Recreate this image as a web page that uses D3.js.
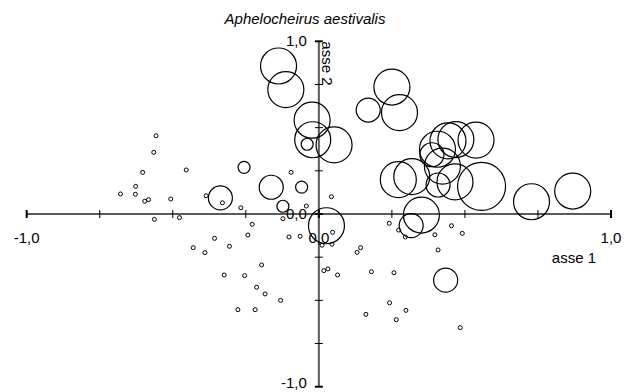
<!DOCTYPE html>
<html>
<head>
<meta charset="utf-8">
<script src="https://cdn.jsdelivr.net/npm/d3@7"></script>
<style>
  html, body { margin: 0; padding: 0; background: #fff; }
  svg { display: block; }
  text { font-family: "Liberation Sans", Arial, sans-serif; fill: #000; }
</style>
</head>
<body>
<svg id="chart" width="634" height="392"></svg>
<script>
// Sample scores on the first two ordination axes and abundance class (0 = absent)
const axis1 = [
  -0.557, -0.565, -0.603, -0.454, -0.627, -0.679, -0.628, -0.583, -0.596, -0.507,
  -0.386, -0.330, -0.563, -0.477, -0.267, -0.228, -0.243, -0.357, -0.430, -0.306,
  -0.095, -0.043, -0.123, -0.102, -0.064, 0.043, 0.241, 0.273, 0.296, 0.397,
  0.454, 0.491, 0.408, 0.047, 0.011, 0.045, 0.143, 0.131, 0.017, 0.031,
  0.064, 0.180, 0.257, 0.242, 0.298, 0.161, 0.265, 0.484, -0.390, -0.196,
  -0.324, -0.254, -0.213, -0.184, -0.131, -0.277, -0.218,
  -0.256, -0.163, -0.059, -0.123, -0.337, -0.040, -0.138, -0.113, -0.023, -0.021,
  0.052, 0.026, 0.250, 0.169, 0.276, 0.272, 0.318, 0.351, 0.316, 0.434,
  0.538, 0.469, 0.442, 0.406, 0.387, 0.423, 0.408, 0.466, 0.557, 0.728, 0.869
];
const axis2 = [
  0.453, 0.357, 0.241, 0.255, 0.160, 0.116, 0.114, 0.083, 0.074, 0.087,
  0.106, 0.065, -0.031, -0.021, 0.036, -0.060, -0.122, -0.141, -0.195, -0.187,
  0.241, 0.046, -0.027, -0.133, -0.129, 0.100, -0.054, -0.093, -0.133, -0.120,
  -0.068, -0.112, -0.208, -0.106, -0.181, -0.175, -0.195, -0.222, -0.328, -0.318,
  -0.353, -0.334, -0.340, -0.514, -0.558, -0.581, -0.612, -0.658, -0.224, -0.295,
  -0.353, -0.357, -0.424, -0.463, -0.500, -0.554, -0.554,
  0.270, 0.155, 0.156, 0.045, 0.093, 0.404, 0.857, 0.720, 0.543, 0.430,
  0.400, -0.068, 0.735, 0.602, 0.587, 0.199, 0.216, -0.006, -0.067, -0.383,
  0.428, 0.431, 0.423, 0.375, 0.343, 0.277, 0.168, 0.186, 0.160, 0.071, 0.133
];
const abundance = [
  0, 0, 0, 0, 0, 0, 0, 0, 0, 0,
  0, 0, 0, 0, 0, 0, 0, 0, 0, 0,
  0, 0, 0, 0, 0, 0, 0, 0, 0, 0,
  0, 0, 0, 0, 0, 0, 0, 0, 0, 0,
  0, 0, 0, 0, 0, 0, 0, 0, 0, 0,
  0, 0, 0, 0, 0, 0, 0,
  1, 2, 1, 1, 2, 1, 3, 3, 3, 3,
  3, 3, 3, 2, 3, 3, 3, 3, 2, 2,
  3, 3, 3, 3, 2, 3, 2, 3, 4, 3, 3
];

const tickValues = [-1, -0.75, -0.5, -0.25, 0, 0.25, 0.5, 0.75, 1];
const labelValues = [-1, 0, 1];
const tickLabels = ["-1,0", "0,0", "1,0"];
const title = "Aphelocheirus aestivalis";
const xTitle = "asse 1";
const yTitle = "asse 2";

const svg = d3.select("#chart");
const x = d3.scaleLinear().domain([-1, 1]).range([26.7, 611]);
const y = d3.scaleLinear().domain([-1, 1]).range([386.7, 41.3]);
const r = d3.scaleLinear().domain([0, 4]).range([0, 24]);

const samples = axis1.map((v, i) => ({ a1: v, a2: axis2[i], ab: abundance[i] }));

// Axis lines through the origin
const axes = svg.append("g");
axes.append("line")
  .attr("x1", x(-1)).attr("x2", x(1))
  .attr("y1", y(0)).attr("y2", y(0))
  .attr("stroke", "#5a5a5a").attr("stroke-width", 2);
axes.append("line")
  .attr("x1", x(0)).attr("x2", x(0))
  .attr("y1", y(1)).attr("y2", y(-1))
  .attr("stroke", "#5a5a5a").attr("stroke-width", 2);

// Tick marks crossing each axis; end ticks and origin heavier
const isEnd = v => Math.abs(v) === 1 || v === 0;
axes.selectAll("line.xt").data(tickValues).join("line")
  .attr("class", "xt")
  .attr("x1", d => x(d)).attr("x2", d => x(d))
  .attr("y1", y(0) - 4).attr("y2", y(0) + 4)
  .attr("stroke", "#000").attr("stroke-width", d => isEnd(d) ? 2 : 1);
axes.selectAll("line.yt").data(tickValues).join("line")
  .attr("class", "yt")
  .attr("x1", x(0) - 4).attr("x2", x(0) + 4)
  .attr("y1", d => y(d)).attr("y2", d => y(d))
  .attr("stroke", "#000").attr("stroke-width", d => isEnd(d) ? 2 : 1);

// Tick labels (bottom label kept inside the frame)
const fs = 15;
svg.selectAll("text.xl").data(labelValues).join("text")
  .attr("class", "xl")
  .attr("x", d => x(d)).attr("y", y(0) + 29)
  .attr("text-anchor", "middle").attr("font-size", fs)
  .text((d, i) => tickLabels[i]);
svg.selectAll("text.yl").data(labelValues).join("text")
  .attr("class", "yl")
  .attr("x", x(0) - 12).attr("y", d => Math.min(y(d) + 5, 388))
  .attr("text-anchor", "end").attr("font-size", fs)
  .text((d, i) => tickLabels[i]);

// Axis titles
svg.append("text")
  .attr("x", 596).attr("y", y(0) + 49)
  .attr("text-anchor", "end").attr("font-size", fs)
  .text(xTitle);
svg.append("text")
  .attr("transform", `translate(${x(0) + 3},${y(1)}) rotate(90)`)
  .attr("text-anchor", "start").attr("font-size", fs)
  .text(yTitle);

// Chart title
svg.append("text")
  .attr("x", 305).attr("y", 24)
  .attr("text-anchor", "middle").attr("font-size", fs)
  .attr("font-style", "italic")
  .text(title);

// Samples: circle size by abundance class, absent samples as small dots
svg.append("g").selectAll("circle").data(samples).join("circle")
  .attr("cx", d => x(d.a1))
  .attr("cy", d => y(d.a2))
  .attr("r", d => d.ab > 0 ? r(d.ab) : 2)
  .attr("fill", "none")
  .attr("stroke", "#000")
  .attr("stroke-width", d => d.ab > 0 ? 1.2 : 1);
</script>
</body>
</html>
